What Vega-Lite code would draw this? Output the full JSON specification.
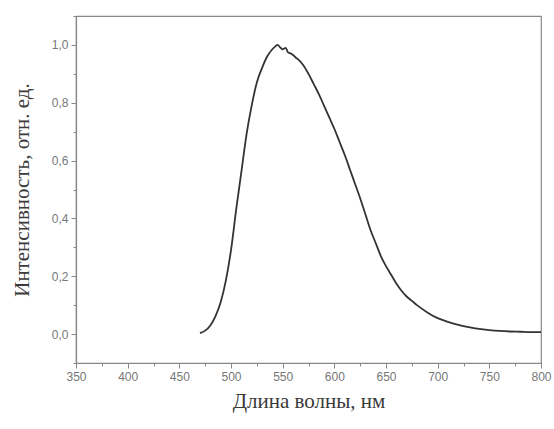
{
  "$schema": "https://vega.github.io/schema/vega-lite/v6.json",
  "autosize": {"type": "none"},
  "padding": {"left": 76, "top": 16, "right": 13, "bottom": 66},
  "width": 465,
  "height": 347,
  "background": "white",
  "config": {
    "view": {"stroke": "#888", "strokeWidth": 1.2},
    "axis": {
      "domainColor": "#888", "domainWidth": 1.2,
      "tickColor": "#888", "tickWidth": 1,
      "labelFont": "Liberation Sans", "labelColor": "#777", "labelFontSize": 12,
      "titleFont": "Liberation Serif", "titleColor": "#3a3a3a", "titleFontSize": 21, "titleFontWeight": "normal",
      "grid": false
    }
  },
  "data": {"values": [
    {"wl": 470, "i": 0.003}, {"wl": 475, "i": 0.012}, {"wl": 480, "i": 0.03}, {"wl": 485, "i": 0.062},
    {"wl": 490, "i": 0.11}, {"wl": 495, "i": 0.185}, {"wl": 500, "i": 0.29}, {"wl": 505, "i": 0.43},
    {"wl": 510, "i": 0.56}, {"wl": 515, "i": 0.69}, {"wl": 520, "i": 0.79}, {"wl": 525, "i": 0.87},
    {"wl": 530, "i": 0.92}, {"wl": 535, "i": 0.96}, {"wl": 540, "i": 0.985}, {"wl": 543, "i": 0.995},
    {"wl": 545, "i": 1.0}, {"wl": 548, "i": 0.99}, {"wl": 550, "i": 0.985}, {"wl": 553, "i": 0.99},
    {"wl": 555, "i": 0.975}, {"wl": 558, "i": 0.97}, {"wl": 560, "i": 0.965}, {"wl": 563, "i": 0.955},
    {"wl": 565, "i": 0.95}, {"wl": 570, "i": 0.93}, {"wl": 575, "i": 0.9}, {"wl": 580, "i": 0.865},
    {"wl": 585, "i": 0.83}, {"wl": 590, "i": 0.79}, {"wl": 595, "i": 0.75}, {"wl": 600, "i": 0.71},
    {"wl": 605, "i": 0.665}, {"wl": 610, "i": 0.62}, {"wl": 615, "i": 0.57}, {"wl": 620, "i": 0.52},
    {"wl": 625, "i": 0.47}, {"wl": 630, "i": 0.415}, {"wl": 635, "i": 0.36}, {"wl": 640, "i": 0.315},
    {"wl": 645, "i": 0.27}, {"wl": 650, "i": 0.235}, {"wl": 655, "i": 0.205}, {"wl": 660, "i": 0.175},
    {"wl": 665, "i": 0.15}, {"wl": 670, "i": 0.13}, {"wl": 675, "i": 0.115}, {"wl": 680, "i": 0.1},
    {"wl": 690, "i": 0.075}, {"wl": 700, "i": 0.055}, {"wl": 710, "i": 0.042}, {"wl": 720, "i": 0.032},
    {"wl": 730, "i": 0.024}, {"wl": 740, "i": 0.018}, {"wl": 750, "i": 0.014}, {"wl": 760, "i": 0.011},
    {"wl": 770, "i": 0.009}, {"wl": 780, "i": 0.008}, {"wl": 790, "i": 0.007}, {"wl": 800, "i": 0.007}
  ]},
  "layer": [
    {
      "mark": {"type": "line", "color": "#333", "strokeWidth": 1.8, "interpolate": "monotone"},
      "encoding": {
        "x": {"field": "wl", "type": "quantitative", "scale": {"domain": [350, 800], "nice": false, "zero": false},
          "axis": {"title": "Длина волны, нм", "orient": "bottom", "values": [350, 400, 450, 500, 550, 600, 650, 700, 750, 800],
            "tickSize": 5, "labelPadding": 3, "titlePadding": 8, "labelFlush": false}},
        "y": {"field": "i", "type": "quantitative", "scale": {"domain": [-0.1, 1.1], "nice": false, "zero": false},
          "axis": {"title": "Интенсивность,   отн. ед.", "orient": "left", "values": [0, 0.2, 0.4, 0.6, 0.8, 1.0],
            "labelExpr": "replace(format(datum.value, '.1f'), '.', ',')",
            "tickSize": 5, "labelPadding": 3, "titlePadding": 19}}
      }
    },
    {
      "mark": {"type": "line", "opacity": 0},
      "encoding": {
        "x": {"field": "wl", "type": "quantitative",
          "axis": {"title": null, "orient": "bottom", "values": [375, 425, 475, 525, 575, 625, 675, 725, 775],
            "labels": false, "domain": false, "tickSize": 3}},
        "y": {"field": "i", "type": "quantitative",
          "axis": {"title": null, "orient": "left", "values": [-0.1, 0.1, 0.3, 0.5, 0.7, 0.9, 1.1],
            "labels": false, "domain": false, "tickSize": 3}}
      }
    }
  ],
  "resolve": {"axis": {"x": "independent", "y": "independent"}}
}
